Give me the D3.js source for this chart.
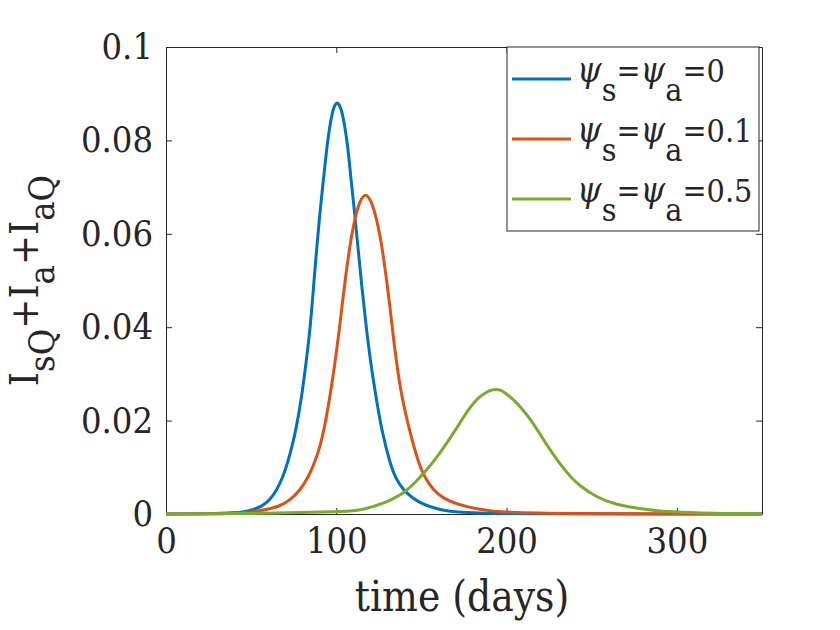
<!DOCTYPE html>
<html>
<head>
<meta charset="utf-8">
<script src="https://cdn.jsdelivr.net/npm/d3@7"></script>
<style>
    body { margin: 0; background: #fff; }
    svg text { font-family: 'DejaVu Serif Condensed', 'DejaVu Serif', serif; font-stretch: condensed; fill: #262626; }
</style>
</head>
<body>
<svg id="chart" width="840" height="630"></svg>
<script>
// [day, value]
const seriesNames = ['0', '0.1', '0.5'];
const seriesColors = ['#0072BD', '#D95319', '#77AC30'];

const psi0 = [
    [0, 0], [25, 0.00003], [40, 0.0002], [50, 0.0007], [56.2, 0.0016], [61, 0.003],
    [65, 0.0051], [68.5, 0.0078], [71.4, 0.0109], [74, 0.0145], [76.3, 0.018],
    [79.7, 0.0251], [82.2, 0.0323], [84.6, 0.0394], [86.5, 0.048], [88.5, 0.057],
    [90.5, 0.065], [92.4, 0.0715], [94.3, 0.078], [95.9, 0.0825], [98, 0.0866],
    [99.3, 0.0877], [100.5, 0.0882], [101.7, 0.0877], [103, 0.0866], [104.7, 0.0837],
    [106.7, 0.079], [108.4, 0.0725], [110.5, 0.0655], [112.5, 0.058], [114.9, 0.049],
    [117.4, 0.0405], [120.2, 0.0323], [123.3, 0.0251], [126.6, 0.018], [131.5, 0.0109],
    [135, 0.0075], [139.3, 0.0051], [148.2, 0.0023], [162.7, 0.0006], [180, 0.0002],
    [220, 0.00003], [350, 0]
];

const psi01 = [
    [0, 0], [25, 0.00002], [40, 0.0001], [55, 0.0006], [66.9, 0.0016], [73, 0.003],
    [78.7, 0.0051], [83.5, 0.0078], [87.5, 0.0112], [90.5, 0.0145], [92.8, 0.018],
    [96.3, 0.0251], [99.2, 0.0323], [101.8, 0.0394], [103.5, 0.045], [105.5, 0.051],
    [108.2, 0.058], [111, 0.0635], [114, 0.0672], [116, 0.0681], [117.2, 0.0683],
    [118.4, 0.0681], [120.5, 0.067], [123, 0.0642], [125.7, 0.0597], [127.5, 0.0555],
    [129.6, 0.050], [131.5, 0.0445], [133, 0.0394], [135.4, 0.0323], [138.4, 0.0251],
    [142.9, 0.018], [148.2, 0.0109], [152, 0.0078], [157, 0.0051], [163, 0.0033],
    [170.7, 0.0021], [184, 0.0009], [200, 0.0003], [230, 0.00008], [350, 0]
];

const psi05 = [
    [0, 0.00002], [30, 0.00006], [50, 0.0001], [80, 0.0003], [100, 0.0005], [108, 0.0006],
    [114, 0.00086], [121, 0.0015], [127.6, 0.0023], [133, 0.0032], [139.3, 0.0044],
    [146, 0.0066], [153.1, 0.0094], [160, 0.0126], [166.8, 0.0162], [172.6, 0.0195],
    [178, 0.0226], [183, 0.0248], [188, 0.0261], [191.5, 0.0266], [193.8, 0.02668],
    [196.1, 0.0266], [199, 0.026], [204, 0.0245], [209, 0.0226], [213.8, 0.0204],
    [218.5, 0.0178], [223.6, 0.0148], [228.5, 0.0122], [233.3, 0.0098], [238, 0.0078],
    [243.1, 0.006], [252.9, 0.0036], [262.7, 0.0021], [282.3, 0.00086], [301.8, 0.0003],
    [330, 0.0001], [350, 0.00005]
];

const allSeries = [psi0, psi01, psi05];
const xTicks = [0, 100, 200, 300];
const yTicks = [0, 0.02, 0.04, 0.06, 0.08, 0.1];

const svg = d3.select('#chart');
const plotLeft = 166, plotRight = 762, plotTop = 47, plotBottom = 514;

const x = d3.scaleLinear().domain([0, 350]).range([plotLeft, plotRight]);
const y = d3.scaleLinear().domain([0, 0.1]).range([plotBottom, plotTop]);

svg.append('defs').append('clipPath').attr('id', 'plot-clip')
    .append('rect')
    .attr('x', plotLeft).attr('y', plotTop - 2)
    .attr('width', plotRight - plotLeft).attr('height', plotBottom - plotTop + 4);

// axes, ticks pointing in (matlab box style)
const axisColor = '#262626';
const xAxis = svg.append('g')
    .attr('transform', `translate(0,${plotBottom})`)
    .call(d3.axisBottom(x).tickValues(xTicks).tickSize(-6).tickSizeOuter(0).tickPadding(13));
const yAxis = svg.append('g')
    .attr('transform', `translate(${plotLeft},0)`)
    .call(d3.axisLeft(y).tickValues(yTicks).tickFormat(d3.format('~g')).tickSize(-6).tickSizeOuter(0).tickPadding(13));
svg.append('g')
    .attr('transform', `translate(0,${plotTop})`)
    .call(d3.axisTop(x).tickValues(xTicks).tickSize(-6).tickSizeOuter(0).tickFormat(''));
svg.append('g')
    .attr('transform', `translate(${plotRight},0)`)
    .call(d3.axisRight(y).tickValues(yTicks).tickSize(-6).tickSizeOuter(0).tickFormat(''));

svg.selectAll('.domain, .tick line').attr('stroke', axisColor).attr('stroke-width', 1);
xAxis.selectAll('text').style('font-size', '36px').attr('fill', axisColor);
yAxis.selectAll('text').style('font-size', '36px').attr('fill', axisColor);

const line = d3.line()
    .x(d => x(d[0]))
    .y(d => y(d[1]))
    .curve(d3.curveBasis);

svg.append('g').attr('clip-path', 'url(#plot-clip)')
    .selectAll('path')
    .data(allSeries)
    .join('path')
    .attr('d', line)
    .attr('fill', 'none')
    .attr('stroke', (d, i) => seriesColors[i])
    .attr('stroke-width', 3)
    .attr('stroke-linejoin', 'round');

// axis titles
svg.append('text')
    .attr('x', (plotLeft + plotRight) / 2 - 2)
    .attr('y', 611)
    .attr('text-anchor', 'middle')
    .style('font-size', '42px')
    .text('time (days)');

const yLabel = svg.append('text')
    .attr('transform', `translate(38,${(plotTop + plotBottom) / 2}) rotate(-90)`)
    .attr('text-anchor', 'middle')
    .style('font-size', '40px');
const yParts = [['I', 0], ['sQ', 1], ['+I', 0], ['a', 1], ['+I', 0], ['aQ', 1]];
let prevSub = 0;
yParts.forEach(p => {
    yLabel.append('tspan')
        .attr('dy', (p[1] - prevSub) * 16)
        .style('font-size', p[1] ? '36px' : '40px')
        .text(p[0]);
    prevSub = p[1];
});

// legend
const legend = svg.append('g');
legend.append('rect')
    .attr('x', 507).attr('y', plotTop)
    .attr('width', 252).attr('height', 184)
    .attr('fill', '#fff')
    .attr('stroke', axisColor)
    .attr('stroke-width', 1);

seriesNames.forEach((name, i) => {
    const ly = 79 + i * 60;
    legend.append('line')
        .attr('x1', 512).attr('x2', 571)
        .attr('y1', ly).attr('y2', ly)
        .attr('stroke', seriesColors[i])
        .attr('stroke-width', 3);
    const t = legend.append('text')
        .attr('x', 577).attr('y', ly + 3)
        .style('font-size', '32px');
    t.append('tspan').style('font-style', 'italic').style('font-size', '35px').text('ψ');
    t.append('tspan').attr('dy', 19).text('s');
    t.append('tspan').attr('dy', -19).text('=');
    t.append('tspan').style('font-style', 'italic').style('font-size', '35px').text('ψ');
    t.append('tspan').attr('dy', 19).text('a');
    t.append('tspan').attr('dy', -19).text('=' + name);
});
</script>
</body>
</html>
